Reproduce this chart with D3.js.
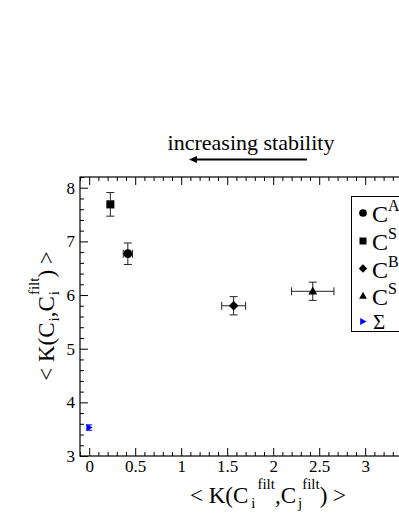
<!DOCTYPE html>
<html><head><meta charset="utf-8">
<script src="https://cdn.jsdelivr.net/npm/d3@7"></script>
<style>body{margin:0;background:#fff}svg{display:block}text{font-family:"Liberation Serif","Times New Roman",serif;fill:#000}</style>
</head><body>
<svg id="c" width="399" height="516"></svg>
<script>
const categories = ["A", "S", "B", "S", "Σ"];
const symbols = ["circle", "square", "diamond", "triangle", "right"];
const xVals = [0.42, 0.23, 1.57, 2.43, 0.0];
const yVals = [6.77, 7.69, 5.80, 6.07, 3.53];
const xErr = [0.05, 0.03, 0.13, 0.23, 0.0];
const yErr = [0.20, 0.22, 0.17, 0.17, 0.05];
const colors = ["#000", "#000", "#000", "#000", "#0000ff"];
const xTicks = [0, 0.5, 1, 1.5, 2, 2.5, 3];
const xTickLabels = ["0", "0.5", "1", "1.5", "2", "2.5", "3"];
const yTicks = [3, 4, 5, 6, 7, 8];
const yTickLabels = ["3", "4", "5", "6", "7", "8"];

const svg = d3.select("#c");
const L = 80, T = 177, B = 456, R = 80 + 3.8 * 92;
const x = d3.scaleLinear().domain([-0.1, 3.7]).range([L, R]);
const y = d3.scaleLinear().domain([3, 8.2]).range([B, T]);

const g = svg.append("g");
g.append("rect").attr("x", L).attr("y", T).attr("width", R - L).attr("height", B - T)
  .attr("fill", "none").attr("stroke", "#000").attr("stroke-width", 1.2);

const xMinor = d3.range(-1, 37).map(i => i / 10).filter(v => !xTicks.some(t => Math.abs(t - v) < 1e-9) && Math.abs(v - 3.5) > 1e-9);
const yMinor = d3.range(15, 42).map(i => i / 5).filter(v => !yTicks.some(t => Math.abs(t - v) < 1e-9));
const xMajorAll = xTicks.concat([3.5]);

const axB = d3.axisBottom(x).tickValues(xTicks).tickSize(-8).tickFormat((d, i) => xTickLabels[i]).tickPadding(4);
const axBm = d3.axisBottom(x).tickValues(xMinor).tickSize(-4).tickFormat("");
const axB2 = d3.axisBottom(x).tickValues([3.5]).tickSize(-8).tickFormat("");
const axT = d3.axisTop(x).tickValues(xMajorAll).tickSize(-8).tickFormat("");
const axTm = d3.axisTop(x).tickValues(xMinor).tickSize(-4).tickFormat("");
const axL = d3.axisLeft(y).tickValues(yTicks).tickSize(-8).tickFormat((d, i) => yTickLabels[i]).tickPadding(5);
const axLm = d3.axisLeft(y).tickValues(yMinor).tickSize(-4).tickFormat("");

function styleAxis(sel) {
  sel.select(".domain").remove();
  sel.selectAll("line").attr("stroke", "#000").attr("stroke-width", 1);
  sel.selectAll("text").attr("font-family", "Liberation Serif").attr("font-size", 17).attr("fill", "#000");
}
g.append("g").attr("transform", `translate(0,${B})`).call(axB).call(styleAxis);
g.append("g").attr("transform", `translate(0,${B})`).call(axBm).call(styleAxis);
g.append("g").attr("transform", `translate(0,${B})`).call(axB2).call(styleAxis);
g.append("g").attr("transform", `translate(0,${T})`).call(axT).call(styleAxis);
g.append("g").attr("transform", `translate(0,${T})`).call(axTm).call(styleAxis);
g.append("g").attr("transform", `translate(${L},0)`).call(axL).call(styleAxis);
g.append("g").attr("transform", `translate(${L},0)`).call(axLm).call(styleAxis);

function sym(sel, type, cx, cy, color, s) {
  if (type === "circle") sel.append("circle").attr("cx", cx).attr("cy", cy).attr("r", s * 0.55).attr("fill", color);
  else if (type === "square") sel.append("rect").attr("x", cx - s / 2).attr("y", cy - s / 2).attr("width", s).attr("height", s).attr("fill", color);
  else if (type === "diamond") sel.append("path").attr("d", `M${cx},${cy - s * 0.6}L${cx + s * 0.6},${cy}L${cx},${cy + s * 0.6}L${cx - s * 0.6},${cy}Z`).attr("fill", color);
  else if (type === "triangle") sel.append("path").attr("d", `M${cx},${cy - s * 0.6}L${cx + s * 0.55},${cy + s * 0.4}L${cx - s * 0.55},${cy + s * 0.4}Z`).attr("fill", color);
  else if (type === "right") sel.append("path").attr("d", `M${cx + s * 0.5},${cy}L${cx - s * 0.4},${cy - s * 0.5}L${cx - s * 0.4},${cy + s * 0.5}Z`).attr("fill", color);
}

const pts = svg.append("g");
xVals.forEach((xv, i) => {
  const cx = x(xv), cy = y(yVals[i]), col = colors[i] === "#000" ? "#222" : colors[i];
  const cap = i === 4 ? 3 : 4;
  const y1 = y(yVals[i] + yErr[i]), y2 = y(yVals[i] - yErr[i]);
  pts.append("line").attr("x1", cx).attr("x2", cx).attr("y1", y1).attr("y2", y2).attr("stroke", col).attr("stroke-width", 1);
  [y1, y2].forEach(yy => pts.append("line").attr("x1", cx - cap).attr("x2", cx + cap).attr("y1", yy).attr("y2", yy).attr("stroke", col).attr("stroke-width", 1));
  if (xErr[i] > 0) {
    const x1 = x(xVals[i] - xErr[i]), x2 = x(xVals[i] + xErr[i]);
    pts.append("line").attr("x1", x1).attr("x2", x2).attr("y1", cy).attr("y2", cy).attr("stroke", col).attr("stroke-width", 1);
    [x1, x2].forEach(xx => pts.append("line").attr("x1", xx).attr("x2", xx).attr("y1", cy - 4).attr("y2", cy + 4).attr("stroke", col).attr("stroke-width", 1));
  }
  sym(pts, symbols[i], cx, cy, colors[i], i === 4 ? 7 : 8);
});

const lg = svg.append("g");
lg.append("rect").attr("x", 351.5).attr("y", 196.5).attr("width", 120).attr("height", 135)
  .attr("fill", "#fff").attr("stroke", "#000").attr("stroke-width", 1);
const legY = [213, 241, 268.5, 296, 321.5];
categories.forEach((c, i) => {
  sym(lg, symbols[i], 363, legY[i], colors[i], 7);
  if (i < 4) {
    const t = lg.append("text").attr("x", 372).attr("y", legY[i] + 9).attr("font-size", 24);
    t.append("tspan").text("C");
    t.append("tspan").attr("dy", -11).attr("font-size", 16).text(c);
  } else {
    lg.append("text").attr("x", 373).attr("y", legY[i] + 7).attr("font-size", 21).text(c);
  }
});

svg.append("text").attr("x", 251).attr("y", 150).attr("text-anchor", "middle").attr("font-size", 22).text("increasing stability");
svg.append("line").attr("x1", 195).attr("x2", 307).attr("y1", 159.5).attr("y2", 159.5).attr("stroke", "#000").attr("stroke-width", 2);
svg.append("path").attr("d", "M189,159.5L197,156L197,163Z").attr("fill", "#000");

const xl = svg.append("text").attr("x", 268).attr("y", 503).attr("text-anchor", "middle").attr("font-size", 23);
xl.append("tspan").text("< K(C");
xl.append("tspan").attr("dx", 3).attr("dy", 5).attr("font-size", 15).text("i");
xl.append("tspan").attr("dx", 2).attr("dy", -19).attr("font-size", 15).text("filt");
xl.append("tspan").attr("dy", 14).text(",C");
xl.append("tspan").attr("dx", 2).attr("dy", 5).attr("font-size", 15).text("j");
xl.append("tspan").attr("dx", 0).attr("dy", -19).attr("font-size", 15).text("filt");
xl.append("tspan").attr("dy", 14).text(") >");

const yl = svg.append("text").attr("transform", "translate(54,316) rotate(-90)").attr("text-anchor", "middle").attr("font-size", 23);
yl.append("tspan").text("< K(C");
yl.append("tspan").attr("dx", 1).attr("dy", 5).attr("font-size", 15).text("i");
yl.append("tspan").attr("dy", -5).text(",C");
yl.append("tspan").attr("dx", 1).attr("dy", 5).attr("font-size", 15).text("i");
yl.append("tspan").attr("dx", -4).attr("dy", -20).attr("font-size", 15).text("filt");
yl.append("tspan").attr("dy", 15).text(") >");
</script>
</body></html>
